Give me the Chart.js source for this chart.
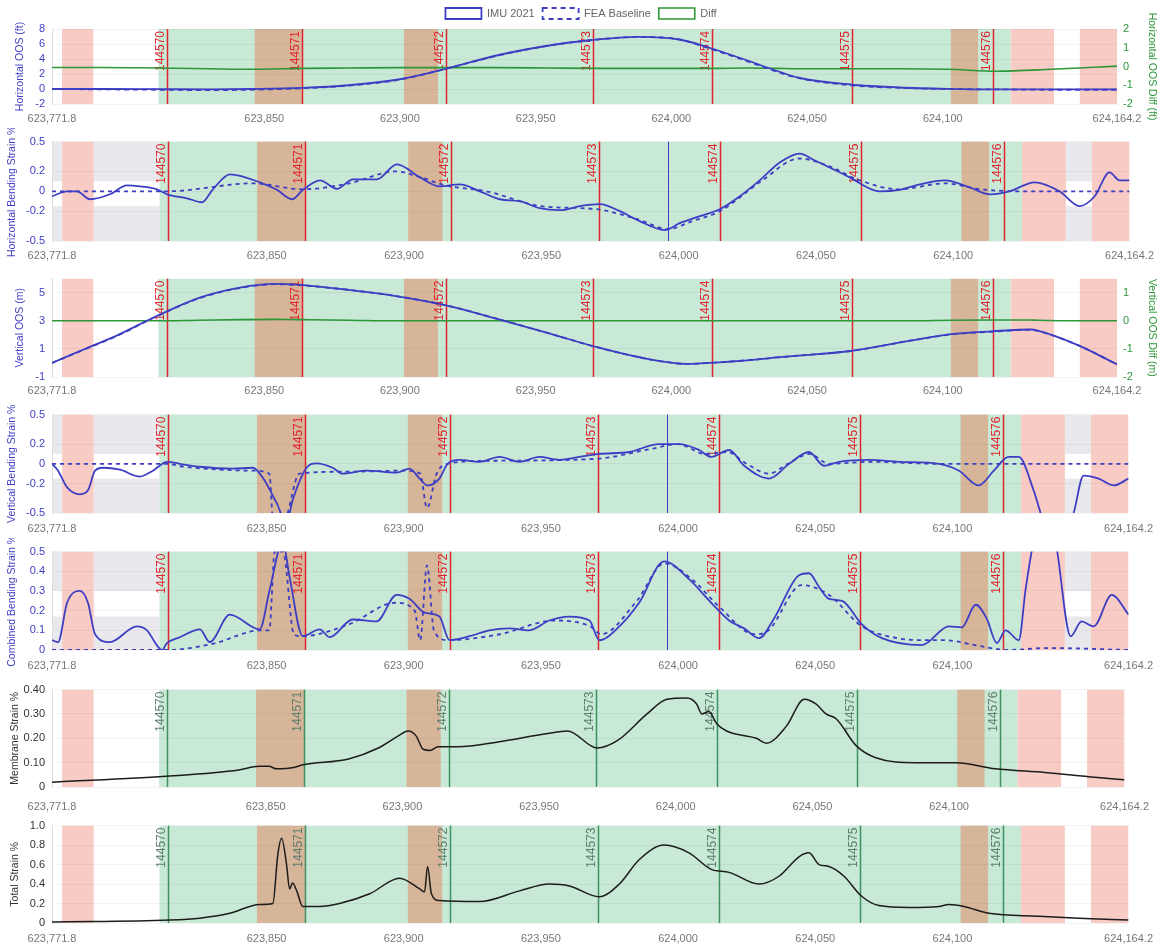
<!DOCTYPE html>
<html>
<head>
<meta charset="utf-8">
<title>Pipeline strain profile</title>
<script src="https://cdn.jsdelivr.net/npm/chart.js@4.4.1/dist/chart.umd.min.js"></script>
<style>
  body { margin: 0; background: #fff; }
  #wrap { position: relative; width: 1162px; height: 951px; overflow: hidden; }
  #wrap canvas { position: absolute; left: 0; }
</style>
</head>
<body>
<div id="wrap">
  <canvas id="hOos" width="1162" height="128" style="top:0px"></canvas>
  <canvas id="hBend" width="1162" height="137" style="top:128px"></canvas>
  <canvas id="vOos" width="1162" height="136" style="top:265px"></canvas>
  <canvas id="vBend" width="1162" height="136" style="top:401px"></canvas>
  <canvas id="cBend" width="1162" height="136" style="top:538px"></canvas>
  <canvas id="memb" width="1162" height="139" style="top:676px"></canvas>
  <canvas id="total" width="1162" height="135" style="top:812px"></canvas>
</div>
<script>
// ---- stationing (x axis) ----
const xMin = 623771.8;
const xMax = 624164.2;
const xTicks = [623771.8, 623850, 623900, 623950, 624000, 624050, 624100, 624164.2];

// girth weld markers
const weldStations = [623814, 623864, 623917, 623971, 624015, 624066.5, 624118.5];
const weldLabels = ['144570', '144571', '144572', '144573', '144574', '144575', '144576'];
const cursorStation = 623996;

// shaded segments along the line
const pinkSegs = [[623775.5, 623787], [624125, 624141], [624150.5, 624164.2]];
const graySegs = [[623771.8, 623775.5], [623787, 623811], [624141, 624150.5]];
const greenSegs = [[623811, 624125]];
const brownSegs = [[623846.5, 623864], [623901.5, 623914], [624103, 624113]];

// ---- Horizontal OOS (ft) ----
const hStations = [623771.8, 623790, 623810, 623830, 623845, 623864, 623881, 623900, 623917, 623936, 623955, 623970,
  623988, 624003, 624014, 624028, 624039, 624047, 624066, 624084, 624102, 624120, 624140, 624164.2];
const hImu = [0, 0, -0.02, -0.05, 0, 0.15, 0.5, 1.3, 2.7, 4.5, 5.8, 6.5,
  6.95, 6.6, 5.5, 3.8, 2.4, 1.5, 0.6, 0.2, 0.02, -0.05, -0.05, -0.05];
const hFea = [0, -0.05, -0.1, -0.15, -0.1, 0.1, 0.45, 1.25, 2.7, 4.45, 5.8, 6.5,
  6.95, 6.6, 5.4, 3.7, 2.3, 1.45, 0.5, 0.15, 0, -0.05, -0.1, -0.1];
const hDiff = [-0.05, -0.05, -0.08, -0.12, -0.15, -0.1, -0.08, -0.06, -0.06, -0.06, -0.08, -0.1,
  -0.1, -0.1, -0.1, -0.08, -0.1, -0.12, -0.12, -0.12, -0.15, -0.25, -0.15, 0.02];

// ---- Horizontal bending strain % ----
const hbStations = [623771.8, 623777.3, 623780.9, 623785.6, 623792.9, 623799.1, 623803.8, 623810, 623813.7, 623821,
  623826.4, 623830.4, 623836.6, 623847.5, 623853.7, 623859.2, 623863.2, 623869.4, 623875.5, 623881.4,
  623890.1, 623897.4, 623905.8, 623913, 623920.3, 623927.6, 623934.9, 623942.2, 623949.4, 623956.7,
  623964, 623971.3, 623978.6, 623985.8, 623994.9, 624000.4, 624007.7, 624015, 624022.3, 624029.5,
  624036.8, 624044.1, 624049.6, 624055, 624062.3, 624073.2, 624080.5, 624087.8, 624096.9, 624106,
  624113.3, 624120.5, 624129.6, 624138.7, 624146, 624151.5, 624156.9, 624160.6, 624164.2];
const hbImu = [-0.05, 0, 0, -0.08, -0.03, 0.06, 0.05, 0.02, -0.03, -0.07,
  -0.11, 0.02, 0.17, 0.09, 0.015, -0.08, 0.015, 0.11, 0.025, 0.12,
  0.12, 0.27, 0.14, 0.05, 0.07, 0, -0.08, -0.1, -0.17, -0.19,
  -0.15, -0.13, -0.2, -0.3, -0.39, -0.32, -0.25, -0.18, -0.05, 0.11,
  0.29, 0.38, 0.31, 0.24, 0.14, 0, 0.015, 0.07, 0.11, 0.04,
  -0.03, 0, 0.09, 0, -0.15, -0.05, 0.19, 0.11, 0.11];
const hbFeaStations = [623771.8, 623813.7, 623845, 623863, 623880, 623897, 623905, 623915, 623930, 623950,
  623970, 623985, 623996, 624005, 624015, 624030, 624044, 624055, 624065, 624080, 624097, 624110, 624125, 624164.2];
const hbFea = [0, 0, 0.08, 0.02, 0.08, 0.2, 0.15, 0.06, 0, -0.15,
  -0.18, -0.28, -0.38, -0.3, -0.2, 0.1, 0.33, 0.25, 0.12, 0.02, 0.08, 0.02, 0, 0];

// ---- Vertical OOS (m) ----
const vStations = [623771.8, 623783, 623796, 623810, 623826, 623841, 623854, 623863, 623881, 623898.5,
  623917, 623936.5, 623955, 623973, 623992, 624006, 624014, 624032, 624039, 624047,
  624066, 624088, 624103, 624118, 624132.5, 624135, 624150, 624164.2];
const vImu = [0, 0.92, 1.98, 3.3, 4.63, 5.36, 5.62, 5.55, 5.2, 4.76,
  4.1, 3.1, 2.1, 1.1, 0.26, -0.07, 0, 0.26, 0.39, 0.52,
  0.85, 1.58, 2.05, 2.25, 2.38, 2.3, 1.25, -0.1];
const vFea = [0, 0.9, 1.95, 3.28, 4.6, 5.33, 5.6, 5.53, 5.2, 4.76,
  4.1, 3.1, 2.1, 1.1, 0.26, -0.07, 0, 0.26, 0.39, 0.52,
  0.85, 1.58, 2.03, 2.22, 2.36, 2.28, 1.25, -0.1];
const vDiff = [0, 0, 0, 0, 0.02, 0.04, 0.05, 0.04, 0.02, 0,
  0, 0, 0, 0, 0, 0, 0, 0, 0, 0,
  0, 0, 0.02, 0.03, 0.03, 0.02, 0, 0];

// ---- Vertical bending strain % ----
const vbStations = [623771.8, 623774, 623777.3, 623782, 623784.9, 623787.5, 623790.4, 623796.6, 623803.8, 623808.6,
  623813.7, 623818.4, 623825.7, 623837.7, 623845, 623848.6, 623853.7, 623857.3, 623859.5, 623864.6,
  623868.3, 623874.1, 623877.7, 623886.5, 623897.4, 623902.1, 623905.8, 623908.7, 623913, 623916,
  623920.3, 623927.6, 623934.9, 623942.2, 623949.4, 623956.7, 623964, 623971.3, 623982.2, 623993.1,
  624000.4, 624007.7, 624012.1, 624018.6, 624024.1, 624033.2, 624040.5, 624047.7, 624053.2, 624058.7,
  624069.6, 624080.5, 624095.1, 624102.4, 624109.6, 624115.1, 624120.5, 624124.2, 624129.6, 624133.3,
  624138.7, 624144.2, 624147.8, 624153.3, 624158.8, 624164.2];
const vbImu = [0, -0.07, -0.24, -0.31, -0.27, -0.07, -0.04, -0.06, -0.13, -0.07,
  0.02, 0, -0.03, -0.05, -0.04, -0.14, -0.4, -0.6, -0.37, -0.04,
  0.005, -0.04, -0.1, -0.07, -0.09, -0.05, -0.15, -0.22, -0.15, 0,
  0.04, 0.02, 0.07, 0.02, 0.07, 0.04, 0.07, 0.1, 0.12, 0.2,
  0.2, 0.14, 0.07, 0.14, -0.02, -0.15, 0, 0.12, -0.02, 0.02,
  0.04, 0.02, 0, -0.07, -0.22, -0.07, 0.07, 0.07, -0.27, -0.6,
  -0.9, -0.5, -0.12, -0.15, -0.22, -0.15];
const vbFeaStations = [623771.8, 623813.7, 623820, 623845, 623851, 623852.5, 623856, 623862, 623880, 623900,
  623906, 623908.5, 623912, 623916, 623930, 623970, 623990, 624000, 624010, 624018,
  624025, 624033, 624040, 624048, 624055, 624070, 624095, 624164.2];
const vbFea = [0, 0, -0.03, -0.07, -0.1, -0.6, -0.6, -0.1, -0.08, -0.07,
  -0.1, -0.45, -0.1, 0, 0.03, 0.05, 0.15, 0.2, 0.1, 0.12,
  0, -0.1, 0, 0.1, 0, 0.02, 0, 0];

// ---- Combined bending strain % ----
const cbStations = [623771.8, 623774, 623777.3, 623782, 623784.9, 623787.5, 623792.9, 623802.7, 623806.4, 623810,
  623811.8, 623813.7, 623818.4, 623825.7, 623829.3, 623836.6, 623847.5, 623851.2, 623855.9, 623858.4,
  623863.2, 623869.4, 623873, 623881.4, 623890.1, 623897.4, 623902.1, 623907.6, 623913, 623916.7,
  623924, 623931.2, 623938.5, 623945.8, 623953.1, 623960.4, 623967.7, 623971.3, 623978.6, 623985.8,
  623994.9, 624004, 624012.1, 624018.6, 624024.1, 624029.5, 624035, 624044.1, 624047.7, 624051.4,
  624055, 624059.8, 624067, 624074.3, 624088.9, 624098.7, 624103.4, 624108.5, 624112.5, 624116.2,
  624119.4, 624124.2, 624126.7, 624129.6, 624133.7, 624137.6, 624143.1, 624147.1, 624151.5, 624158.1, 624164.2];
const cbImu = [0.05, 0.04, 0.24, 0.3, 0.24, 0.08, 0.04, 0.12, 0.1, 0.025,
  0, 0.035, 0.065, 0.105, 0.04, 0.18, 0.105, 0.31, 0.55, 0.37,
  0.07, 0.105, 0.065, 0.155, 0.145, 0.28, 0.26, 0.19, 0.17, 0.05,
  0.07, 0.1, 0.11, 0.1, 0.15, 0.17, 0.15, 0.05, 0.12, 0.24,
  0.45, 0.36, 0.24, 0.15, 0.11, 0.06, 0.16, 0.38, 0.39, 0.32,
  0.26, 0.25, 0.13, 0.06, 0.025, 0.12, 0.115, 0.23, 0.16, 0.035,
  0.1, 0.05, 0.31, 0.55, 0.7, 0.55, 0.07, 0.145, 0.12, 0.28, 0.18];
const cbFeaStations = [623771.8, 623813.7, 623830, 623848, 623851, 623853, 623856, 623860, 623863, 623880,
  623897, 623904, 623906, 623908.5, 623911, 623916, 623935, 623955, 623968, 623972,
  623985, 623995, 624005, 624015, 624028, 624033, 624045, 624055, 624067, 624080,
  624090, 624097, 624110, 624120, 624135, 624164.2];
const cbFea = [0, 0, 0.03, 0.1, 0.1, 0.5, 0.5, 0.08, 0.07, 0.13,
  0.24, 0.2, 0.05, 0.43, 0.1, 0.05, 0.08, 0.15, 0.12, 0.08,
  0.25, 0.44, 0.36, 0.22, 0.08, 0.1, 0.33, 0.28, 0.12, 0.06,
  0.05, 0.05, 0.02, 0, 0.01, 0];

// ---- Membrane strain % ----
const mStations = [623771.8, 623814.8, 623840.2, 623847.5, 623851.2, 623853.7, 623860.3, 623863.2, 623880.3, 623891.2,
  623898.5, 623902.1, 623905, 623907.6, 623910.1, 623913, 623920.3, 623934.9, 623953.1, 623960.4,
  623971.3, 623978.6, 623989.5, 623996.8, 624004, 624007.7, 624009.5, 624012.1, 624015, 624018.6,
  624029.5, 624033.2, 624040.5, 624047, 624051.4, 624055, 624058.7, 624066, 624073.2, 624087.8,
  624102.4, 624116.9, 624135.1, 624153.3, 624164.2];
const mStrain = [0.02, 0.045, 0.07, 0.085, 0.085, 0.075, 0.08, 0.09, 0.115, 0.16,
  0.21, 0.23, 0.21, 0.155, 0.15, 0.165, 0.165, 0.185, 0.22, 0.23,
  0.16, 0.19, 0.3, 0.36, 0.365, 0.34, 0.3, 0.31, 0.26, 0.23,
  0.2, 0.18, 0.25, 0.36, 0.34, 0.3, 0.28, 0.17, 0.12, 0.1,
  0.1, 0.075, 0.06, 0.04, 0.03];

// ---- Total strain % ----
const tStations = [623771.8, 623814.8, 623825.7, 623836.6, 623847.5, 623852.3, 623854.1, 623855.5, 623857.3, 623858.4,
  623859.5, 623861, 623863.2, 623869.4, 623876.6, 623887.6, 623898.5, 623905.8, 623907.6, 623908.7,
  623910.1, 623913, 623927.6, 623942.2, 623953.1, 623960.4, 623971.3, 623978.6, 623985.8, 623994.9,
  624004, 624012.1, 624018.6, 624029.5, 624036.8, 624044.1, 624047.7, 624051.4, 624055, 624060.5,
  624066.7, 624073.2, 624084.1, 624095.1, 624098.7, 624104.2, 624113.3, 624131.5, 624146, 624164.2];
const tStrain = [0.01, 0.03, 0.05, 0.1, 0.19, 0.2, 0.7, 0.87, 0.6, 0.35,
  0.41, 0.33, 0.17, 0.17, 0.2, 0.3, 0.46, 0.35, 0.32, 0.58,
  0.3, 0.23, 0.22, 0.33, 0.4, 0.38, 0.27, 0.4, 0.65, 0.8,
  0.72, 0.55, 0.52, 0.4, 0.48, 0.68, 0.72, 0.6, 0.58, 0.48,
  0.28, 0.18, 0.16, 0.17, 0.19, 0.17, 0.1, 0.07, 0.05, 0.03];

// ---- styling ----
const BLUE = 'rgb(62,62,196)';
const DIFF_GREEN = 'rgb(45,150,55)';
const WELD_RED = 'rgb(225,35,45)';
const BAND_GREEN = 'rgb(199,233,213)';
const BAND_BROWN = 'rgb(214,181,152)';
const BAND_PINK = 'rgb(248,203,197)';
const BAND_GRAY = 'rgb(233,233,237)';

Chart.defaults.font.family = 'Arial, "Liberation Sans", Helvetica, sans-serif';
Chart.defaults.font.size = 11;
Chart.defaults.color = '#666';

function pts(xs, ys) {
  return xs.map((x, i) => ({ x: x, y: ys[i] }));
}

function shading(stripe) {
  const list = [];
  if (stripe) {
    graySegs.forEach(s => list.push({ from: s[0], to: s[1], color: BAND_GRAY }));
    graySegs.forEach(s => list.push({ from: s[0], to: s[1], color: '#fff', yFrom: stripe[0], yTo: stripe[1] }));
  }
  pinkSegs.forEach(s => list.push({ from: s[0], to: s[1], color: BAND_PINK }));
  greenSegs.forEach(s => list.push({ from: s[0], to: s[1], color: BAND_GREEN }));
  brownSegs.forEach(s => list.push({ from: s[0], to: s[1], color: BAND_BROWN }));
  return list;
}

// bands behind everything, weld lines behind the data
const backdrop = {
  id: 'backdrop',
  beforeDraw(chart, args, opts) {
    const { ctx, chartArea: a, scales } = chart;
    const x = scales.x, y = scales.y;
    ctx.save();
    ctx.beginPath();
    ctx.rect(a.left, a.top, a.width, a.height);
    ctx.clip();
    (opts.bands || []).forEach(b => {
      const x0 = x.getPixelForValue(b.from);
      const x1 = x.getPixelForValue(b.to);
      const y0 = b.yTo != null ? y.getPixelForValue(b.yTo) : a.top;
      const y1 = b.yFrom != null ? y.getPixelForValue(b.yFrom) : a.bottom;
      ctx.fillStyle = b.color;
      ctx.fillRect(x0, y0, x1 - x0, y1 - y0);
    });
    ctx.restore();
  },
  beforeDatasetsDraw(chart, args, opts) {
    const { ctx, chartArea: a, scales } = chart;
    const x = scales.x;
    ctx.save();
    if (opts.cursor) {
      const cx = Math.round(x.getPixelForValue(cursorStation)) + 0.5;
      ctx.strokeStyle = BLUE;
      ctx.lineWidth = 1;
      ctx.beginPath();
      ctx.moveTo(cx, a.top);
      ctx.lineTo(cx, a.bottom);
      ctx.stroke();
    }
    weldStations.forEach((s, i) => {
      const px = Math.round(x.getPixelForValue(s)) + 0.5;
      ctx.strokeStyle = opts.lineColor;
      ctx.lineWidth = 1.5;
      ctx.beginPath();
      ctx.moveTo(px, a.top);
      ctx.lineTo(px, a.bottom);
      ctx.stroke();
      ctx.save();
      ctx.translate(px - 1, a.top + 2);
      ctx.rotate(-Math.PI / 2);
      ctx.fillStyle = opts.labelColor;
      ctx.font = '12px Arial, "Liberation Sans", sans-serif';
      ctx.textAlign = 'right';
      ctx.textBaseline = 'bottom';
      ctx.fillText(weldLabels[i], 0, 0);
      ctx.restore();
    });
    ctx.restore();
  }
};
Chart.register(backdrop);

function fixedTicks(values) {
  return scale => { scale.ticks = values.map(v => ({ value: v })); };
}

function line(label, xs, ys, color, extra) {
  return Object.assign({
    label: label,
    data: pts(xs, ys),
    borderColor: color,
    backgroundColor: 'rgba(0,0,0,0)',
    borderWidth: 1.8,
    pointRadius: 0,
    fill: false,
    cubicInterpolationMode: 'monotone',
    yAxisID: 'y'
  }, extra || {});
}

function panel(id, cfg) {
  const scales = {
    x: {
      type: 'linear',
      min: xMin,
      max: xMax,
      afterBuildTicks: fixedTicks(xTicks),
      afterFit: s => { s.height = cfg.xH; },
      ticks: {
        autoSkip: false, maxRotation: 0, minRotation: 0,
        padding: cfg.xPad, color: '#777',
        callback: v => v.toLocaleString('en-US', { maximumFractionDigits: 1 })
      },
      grid: { display: false, drawTicks: false },
      border: { display: false }
    },
    y: {
      min: cfg.left.min,
      max: cfg.left.max,
      afterBuildTicks: fixedTicks(cfg.left.ticks),
      afterFit: s => { s.width = 52; },
      ticks: { autoSkip: false, color: cfg.left.color, padding: 7, callback: cfg.left.format || (v => v) },
      title: {
        display: true, text: cfg.left.title, color: cfg.left.color,
        font: { size: 10.5 }, padding: { top: cfg.left.titlePad, bottom: 0 }
      },
      grid: { color: 'rgba(0,0,0,0.045)', drawTicks: false },
      border: { color: '#ddd' }
    }
  };
  if (cfg.right) {
    scales.y2 = {
      position: 'right',
      min: cfg.right.min,
      max: cfg.right.max,
      afterBuildTicks: fixedTicks(cfg.right.ticks),
      afterFit: s => { s.width = 45; },
      ticks: { autoSkip: false, color: DIFF_GREEN, padding: 6 },
      title: {
        display: true, text: cfg.right.title, color: DIFF_GREEN,
        font: { size: 10.5 }, padding: { top: 4, bottom: 0 }
      },
      grid: { display: false, drawTicks: false },
      border: { display: false }
    };
  }
  return new Chart(document.getElementById(id), {
    type: 'line',
    data: { datasets: cfg.datasets },
    options: {
      responsive: false,
      animation: false,
      layout: { padding: { top: cfg.padTop, right: cfg.right ? 0 : 30, left: 0, bottom: 0 } },
      plugins: {
        legend: cfg.legend ? {
          display: true,
          position: 'top',
          labels: { boxWidth: 36, boxHeight: 11, padding: 8, color: '#666', font: { size: 11 } }
        } : { display: false },
        tooltip: { enabled: false },
        backdrop: {
          bands: cfg.bands,
          cursor: cfg.cursor,
          lineColor: cfg.lineColor || WELD_RED,
          labelColor: cfg.labelColor || WELD_RED
        }
      },
      scales: scales
    }
  });
}

const fea = { borderDash: [5, 4] };

panel('hOos', {
  padTop: 0, xH: 24, xPad: 8, legend: true, bands: shading(null),
  left: { min: -2, max: 8, ticks: [-2, 0, 2, 4, 6, 8], color: BLUE, title: 'Horizontal OOS (ft)', titlePad: 14 },
  right: { min: -2, max: 2, ticks: [-2, -1, 0, 1, 2], title: 'Horizontal OOS Diff (ft)' },
  datasets: [
    line('IMU 2021', hStations, hImu, BLUE),
    line('FEA Baseline', hStations, hFea, BLUE, fea),
    line('Diff', hStations, hDiff, DIFF_GREEN, { yAxisID: 'y2', borderWidth: 1.6 })
  ]
});

panel('hBend', {
  padTop: 10, xH: 24, xPad: 8, cursor: true, bands: shading([-0.15, 0.1]),
  left: { min: -0.5, max: 0.5, ticks: [-0.5, -0.2, 0, 0.2, 0.5], color: BLUE, title: 'Horizontal Bending Strain %', titlePad: 6 },
  datasets: [
    line('IMU 2021', hbStations, hbImu, BLUE),
    line('FEA Baseline', hbFeaStations, hbFea, BLUE, { borderDash: [4, 4] })
  ]
});

panel('vOos', {
  padTop: 10, xH: 24, xPad: 7, bands: shading(null),
  left: { min: -1, max: 6, ticks: [-1, 1, 3, 5], color: BLUE, title: 'Vertical OOS (m)', titlePad: 14 },
  right: { min: -2, max: 1.5, ticks: [-2, -1, 0, 1], title: 'Vertical OOS Diff (m)' },
  datasets: [
    line('IMU 2021', vStations, vImu, BLUE),
    line('FEA Baseline', vStations, vFea, BLUE, fea),
    line('Diff', vStations, vDiff, DIFF_GREEN, { yAxisID: 'y2', borderWidth: 1.6 })
  ]
});

panel('vBend', {
  padTop: 10, xH: 24, xPad: 9, cursor: true, bands: shading([-0.15, 0.1]),
  left: { min: -0.5, max: 0.5, ticks: [-0.5, -0.2, 0, 0.2, 0.5], color: BLUE, title: 'Vertical Bending Strain %', titlePad: 6 },
  datasets: [
    line('IMU 2021', vbStations, vbImu, BLUE),
    line('FEA Baseline', vbFeaStations, vbFea, BLUE, { borderDash: [4, 4] })
  ]
});

panel('cBend', {
  padTop: 10, xH: 24, xPad: 9, cursor: true, bands: shading([0.17, 0.3]),
  left: { min: 0, max: 0.5, ticks: [0, 0.1, 0.2, 0.3, 0.4, 0.5], color: BLUE, title: 'Combined Bending Strain %', titlePad: 6 },
  datasets: [
    line('IMU 2021', cbStations, cbImu, BLUE),
    line('FEA Baseline', cbFeaStations, cbFea, BLUE, { borderDash: [4, 4] })
  ]
});

panel('memb', {
  padTop: 10, xH: 28, xPad: 13, bands: shading(null),
  lineColor: 'rgb(60,145,95)', labelColor: 'rgb(95,125,108)',
  left: { min: 0, max: 0.4, ticks: [0, 0.1, 0.2, 0.3, 0.4], color: '#333', title: 'Membrane Strain %', titlePad: 9,
    format: v => (v === 0 ? '0' : v.toFixed(2)) },
  datasets: [
    line('Membrane', mStations, mStrain, '#1c1c1c', { borderWidth: 1.5 })
  ]
});

panel('total', {
  padTop: 10, xH: 24, xPad: 9, bands: shading(null),
  lineColor: 'rgb(60,145,95)', labelColor: 'rgb(95,125,108)',
  left: { min: 0, max: 1, ticks: [0, 0.2, 0.4, 0.6, 0.8, 1], color: '#333', title: 'Total Strain %', titlePad: 9,
    format: v => (v === 0 ? '0' : v.toFixed(1)) },
  datasets: [
    line('Total', tStations, tStrain, '#1c1c1c', { borderWidth: 1.5 })
  ]
});
</script>
</body>
</html>
